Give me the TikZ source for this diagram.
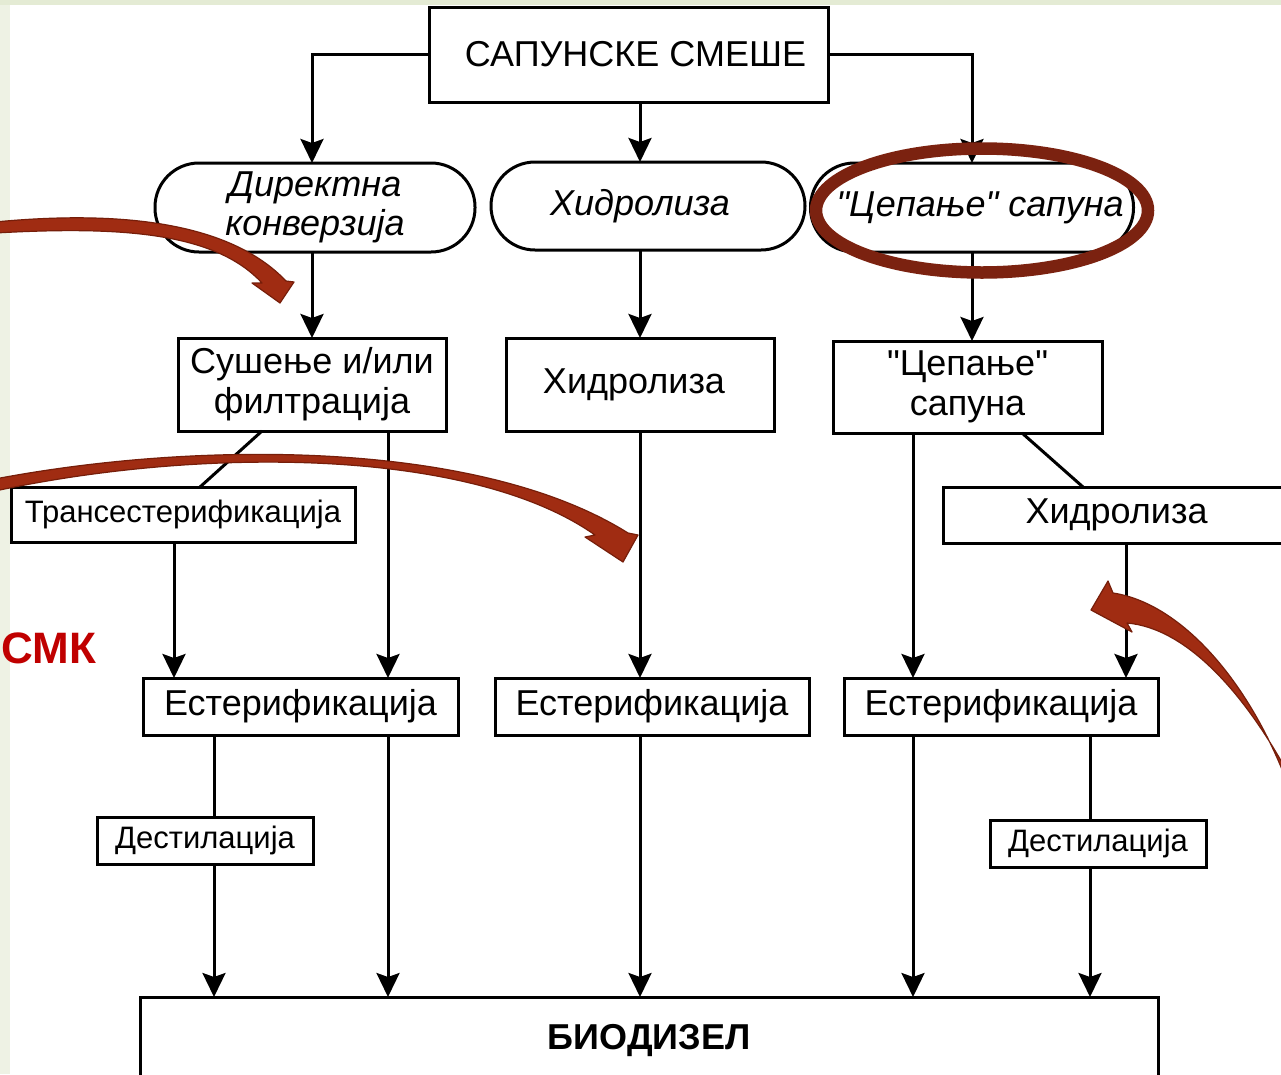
\documentclass[tikz,border=0pt]{standalone}
\usepackage{fontspec}
\newfontfamily\lsans{Liberation Sans}
\usetikzlibrary{arrows.meta,calc}
\definecolor{bgL}{RGB}{238,242,228}
\definecolor{bgT}{RGB}{228,235,212}
\definecolor{redfill}{RGB}{160,44,18}
\definecolor{redline}{RGB}{118,30,10}
\definecolor{ellred}{RGB}{123,34,16}
\definecolor{smkred}{RGB}{192,0,0}
\begin{document}
\begin{tikzpicture}[x=1pt,y=-1pt,
  box/.style={draw,line width=3pt,rectangle,inner sep=0pt,outer sep=0pt,align=center,
    font=\lsans\fontsize{36}{40}\selectfont},
  stadium/.style={box,rounded corners=44pt,font=\lsans\itshape\fontsize{36}{39}\selectfont},
  smallbox/.style={box,font=\lsans\fontsize{31}{34}\selectfont},
  conn/.style={line width=3pt},
  arr/.style={line width=3pt,-{Stealth[length=24pt,width=23pt,inset=4pt]}},
  redarrow/.style={fill=redfill,draw=redline,line width=1.2pt,line join=round}
]
\useasboundingbox (0,0) rectangle (1281,1074);
\clip (0,0) rectangle (1281,1074);
% background
\fill[bgL] (0,0) rectangle (1281,1074);
\fill[bgT] (0,0) rectangle (1281,5);
\fill[white] (10,5) rectangle (1281,1074);

% column coordinates
\coordinate (cA) at (174,0);
\coordinate (cB) at (214,0);
\coordinate (cC) at (312,0);
\coordinate (cD) at (388,0);
\coordinate (cM) at (640,0);
\coordinate (cE) at (913,0);
\coordinate (cF) at (972,0);
\coordinate (cG) at (1090,0);
\coordinate (cH) at (1126,0);

% nodes
\node[box,minimum width=399pt,minimum height=95pt] (top) at (628.5,54.5) {\hspace*{14pt}САПУНСКЕ СМЕШЕ};
\node[stadium,minimum width=320pt,minimum height=89pt] (dk) at (315,207.5) {Директна\\конверзија};
\node[stadium,minimum width=314pt,minimum height=88pt] (hd) at (648,206) {Хидролиза\hspace*{16pt}};
\node[stadium,minimum width=323pt,minimum height=89pt] (cs) at (972,207.5) {\hspace*{16pt}"Цепање" сапуна};

\node[box,minimum width=268pt,minimum height=93pt] (sf) at (312,384.5) {Сушење и/или\\филтрација};
\node[box,minimum width=268pt,minimum height=93pt] (h2) at (640,384.5) {Хидролиза\hspace*{12pt}};
\node[box,minimum width=269pt,minimum height=92pt] (c2) at (967.5,387) {"Цепање"\\сапуна};

\node[smallbox,minimum width=344pt,minimum height=55pt] (tr) at (183,514.5) {Трансестерификација};
\node[box,minimum width=347pt,minimum height=56pt] (h3) at (1116.5,515) {Хидролиза};

\node[box,minimum width=315pt,minimum height=57pt] (e1) at (300.5,706.5) {Естерификација};
\node[box,minimum width=314pt,minimum height=57pt] (e2) at (652,706.5) {Естерификација};
\node[box,minimum width=314pt,minimum height=57pt] (e3) at (1001,706.5) {Естерификација};

\node[smallbox,minimum width=216pt,minimum height=47pt] (d1) at (205,840.5) {Дестилација};
\node[smallbox,minimum width=216pt,minimum height=47pt] (d2) at (1098,843.5) {Дестилација};

\node[box,minimum width=1018pt,minimum height=86pt,font=\lsans\bfseries\fontsize{36}{40}\selectfont] (bio) at (649,1040) {БИОДИЗЕЛ};

% connectors
\draw[arr] (top.west) -| (dk.north -| cC);
\draw[arr] (top.south -| cM) -- (hd.north -| cM);
\draw[arr] (top.east) -| (cs.north -| cF);

\draw[arr] (dk.south -| cC) -- (sf.north -| cC);
\draw[arr] (hd.south -| cM) -- (h2.north -| cM);
\draw[arr] (cs.south -| cF) -- (c2.north -| cF);

\draw[conn] ($(sf.south)+(-50,0)$) -- ($(tr.north)+(17,0)$);
\draw[arr] (tr.south -| cA) -- (e1.north -| cA);
\draw[arr] (sf.south -| cD) -- (e1.north -| cD);
\draw[arr] (h2.south -| cM) -- (e2.north -| cM);
\draw[arr] (c2.south -| cE) -- (e3.north -| cE);
\draw[conn] ($(c2.south)+(54.5,0)$) -- ($(h3.north)+(-33.5,0)$);
\draw[arr] (h3.south -| cH) -- (e3.north -| cH);

\draw[conn] (e1.south -| cB) -- (d1.north -| cB);
\draw[arr] (d1.south -| cB) -- (bio.north -| cB);
\draw[arr] (e1.south -| cD) -- (bio.north -| cD);
\draw[arr] (e2.south -| cM) -- (bio.north -| cM);
\draw[arr] (e3.south -| cE) -- (bio.north -| cE);
\draw[conn] (e3.south -| cG) -- (d2.north -| cG);
\draw[arr] (d2.south -| cG) -- (bio.north -| cG);

% red ellipse highlight
\draw[ellred,line width=12.5pt] (982,210.5) ellipse [x radius=166pt, y radius=62pt];

% red curved arrows
\path[redarrow] (-5,222) .. controls (120,210) and (230,222) .. (286,281)
  -- (294,282) -- (280,303) -- (252,283) -- (262,283)
  .. controls (215,232) and (120,226) .. (-5,233) -- cycle;
\path[redarrow] (-5,479) .. controls (200,440) and (480,440) .. (628,533)
  -- (638,535) -- (623,562) -- (585,537) -- (595,535)
  .. controls (470,447) and (200,447) .. (-5,491) -- cycle;
\path[redarrow] (1091,610) -- (1108,581) -- (1113,593)
  .. controls (1180,603) and (1250,680) .. (1290,790)
  -- (1296,788) .. controls (1245,690) and (1185,628) .. (1127,623)
  -- (1132,632) -- cycle;

% red label
\node[anchor=base west,inner sep=0pt,text=smkred,font=\lsans\bfseries\fontsize{44}{44}\selectfont] (smk) at (1,663) {СМК};
\end{tikzpicture}
\end{document}
